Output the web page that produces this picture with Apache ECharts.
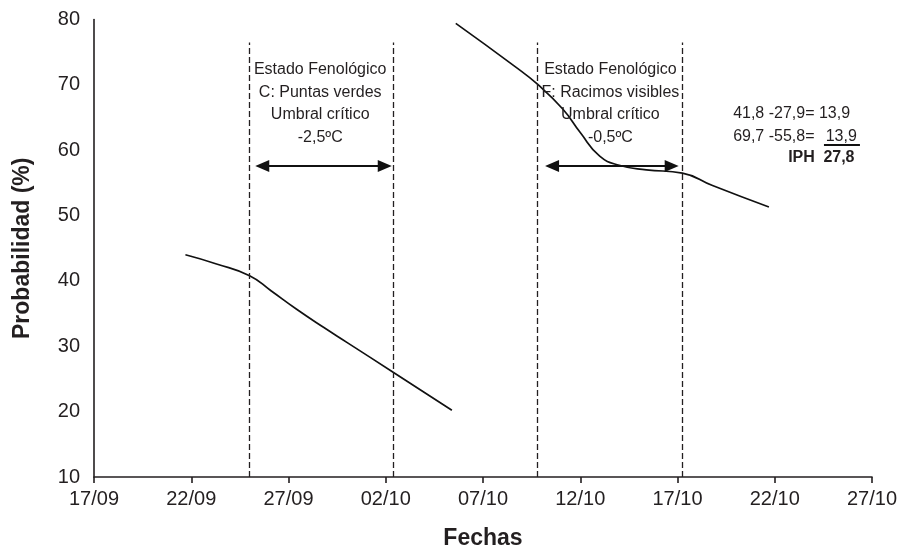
<!DOCTYPE html>
<html><head><meta charset="utf-8">
<script src="https://cdn.jsdelivr.net/npm/echarts@6/dist/echarts.min.js"></script>
<style>html,body{margin:0;padding:0;background:#fff}#c{width:905px;height:555px}</style>
</head><body><div id="c"></div>
<script>
// Etiquetas del eje X (cada 5 días desde 17/09)
const tickLabels = ['17/09','22/09','27/09','02/10','07/10','12/10','17/10','22/10','27/10'];
// Curva 1: días desde 17/09 y probabilidad (%)
const dias1 = [4.7, 6.3, 8.0, 9.1, 10.4, 11.8, 13.0, 15.4, 18.4];
const prob1 = [44.0, 42.6, 40.8, 38.5, 35.7, 32.9, 30.6, 26.0, 20.2];
// Curva 2
const dias2 = [18.6, 21.6, 22.8, 24.1, 25.0, 26.0, 27.0, 28.4, 30.25, 31.8, 34.7];
const prob2 = [79.4, 72.9, 70.1, 66.3, 62.7, 59.1, 57.7, 57.0, 56.5, 54.6, 51.3];
// Límites de los estados fenológicos (días)
const limites = [8.0, 15.4, 22.8, 30.25];
const limiteTop = 76.5;
// Flechas dobles (días inicio/fin) y altura
const flechas = [[8.65, 14.95], [23.55, 29.7]];
const flechaY = 57.6;
// Textos de estados
const estadoX = [11.63, 26.55];
const estadoY = 67.1;
const estadoTextos = [
  ['Estado Fenológico','C: Puntas verdes','Umbral crítico','-2,5ºC'],
  ['Estado Fenológico','F: Racimos visibles','Umbral crítico','-0,5ºC']
];
// Cálculo IPH
const calcTextos = [
  {x: 32.86, y: 65.6, t: '41,8 -27,9= 13,9', bold: false},
  {x: 32.86, y: 62.1, t: '69,7 -55,8=', bold: false},
  {x: 37.62, y: 62.1, t: '13,9', bold: false},
  {x: 35.69, y: 58.9, t: 'IPH', bold: true},
  {x: 37.50, y: 58.9, t: '27,8', bold: true}
];
const subrayado = [[37.53, 39.38], 60.85];

const FONT = 'Arial, "Liberation Sans", Helvetica, sans-serif';
const INK = '#231f20';

const chart = echarts.init(document.getElementById('c'), null, {renderer: 'canvas'});

const markLineData = [];
limites.forEach(x => markLineData.push([
  {coord: [x, 10], symbol: 'none', lineStyle: {type: [6, 3], width: 1.3, color: INK}},
  {coord: [x, limiteTop], symbol: 'none'}
]));
flechas.forEach(f => markLineData.push([
  {coord: [f[0], flechaY], symbol: 'triangle', symbolSize: [12, 14], lineStyle: {type: 'solid', width: 2.2, color: '#111'}},
  {coord: [f[1], flechaY], symbol: 'triangle', symbolSize: [12, 14]}
]));
markLineData.push([
  {coord: [subrayado[0][0], subrayado[1]], symbol: 'none', lineStyle: {type: 'solid', width: 2, color: '#111'}},
  {coord: [subrayado[0][1], subrayado[1]], symbol: 'none'}
]);

const markPointData = [];
estadoX.forEach((x, i) => markPointData.push({
  coord: [x, estadoY], symbolSize: 0,
  label: {show: true, position: 'inside', formatter: estadoTextos[i].join('\n'),
    fontFamily: FONT, fontSize: 16, lineHeight: 22.5, color: INK, align: 'center', verticalAlign: 'middle'}
}));
calcTextos.forEach(c => markPointData.push({
  coord: [c.x, c.y], symbolSize: 0,
  label: {show: true, position: 'inside', formatter: c.t, fontFamily: FONT, fontSize: 16,
    fontWeight: c.bold ? 'bold' : 'normal', color: INK, align: 'left', verticalAlign: 'middle'}
}));

chart.setOption({
  animation: false,
  backgroundColor: '#fff',
  grid: {left: 94, right: 33, top: 19.5, bottom: 76.3, containLabel: false},
  xAxis: {
    type: 'value', min: 0, max: 40, interval: 5,
    name: 'Fechas', nameLocation: 'middle', nameGap: 50,
    nameTextStyle: {fontFamily: FONT, fontSize: 23, fontWeight: 'bold', color: INK},
    axisLine: {show: true, onZero: false, lineStyle: {color: INK, width: 1.6}},
    axisTick: {show: true, length: 6, lineStyle: {color: INK, width: 1.6}},
    axisLabel: {formatter: v => tickLabels[Math.round(v / 5)], fontFamily: FONT, fontSize: 20, color: INK, margin: 12},
    splitLine: {show: false}
  },
  yAxis: {
    type: 'value', min: 10, max: 80, interval: 10,
    name: 'Probabilidad (%)', nameLocation: 'middle', nameGap: 60, nameRotate: 90,
    nameTextStyle: {fontFamily: FONT, fontSize: 23, fontWeight: 'bold', color: INK},
    axisLine: {show: true, onZero: false, lineStyle: {color: INK, width: 1.6}},
    axisTick: {show: false},
    axisLabel: {fontFamily: FONT, fontSize: 20, color: INK, margin: 14},
    splitLine: {show: false}
  },
  series: [
    {type: 'line', data: dias1.map((d, i) => [d, prob1[i]]), smooth: 0.5,
      symbol: 'none', lineStyle: {color: '#111', width: 1.7}, z: 3},
    {type: 'line', data: dias2.map((d, i) => [d, prob2[i]]), smooth: 0.5,
      symbol: 'none', lineStyle: {color: '#111', width: 1.7}, z: 3},
    {type: 'line', data: [], symbol: 'none',
      markLine: {silent: true, animation: false, label: {show: false}, data: markLineData},
      markPoint: {silent: true, animation: false, data: markPointData}}
  ]
});
</script></body></html>
